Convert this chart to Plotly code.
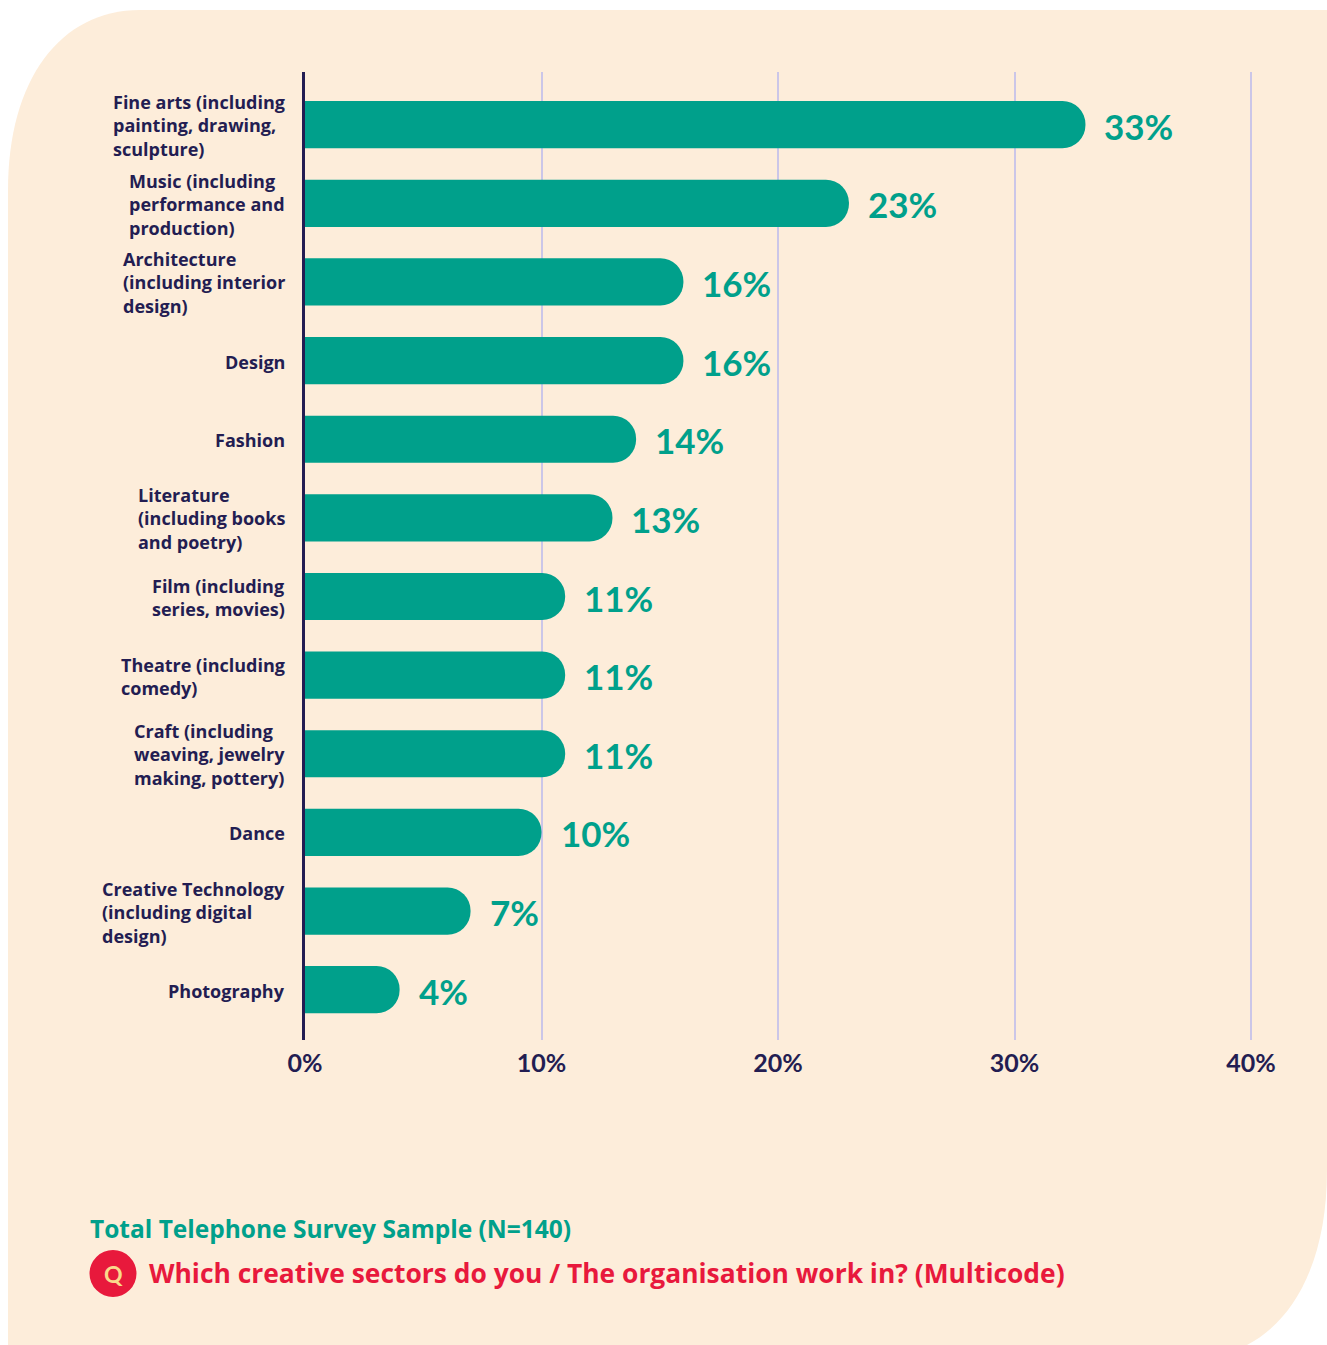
import plotly.graph_objects as go

# Sectors and the share of respondents working in each (percent)
sectors = [
    "Fine arts (including<br>painting, drawing,<br>sculpture)",
    "Music (including<br>performance and<br>production)",
    "Architecture<br>(including interior<br>design)",
    "Design",
    "Fashion",
    "Literature<br>(including books<br>and poetry)",
    "Film (including<br>series, movies)",
    "Theatre (including<br>comedy)",
    "Craft (including<br>weaving, jewelry<br>making, pottery)",
    "Dance",
    "Creative Technology<br>(including digital<br>design)",
    "Photography",
]
shares = [33, 23, 16, 16, 14, 13, 11, 11, 11, 10, 7, 4]
x_ticks = [0, 10, 20, 30, 40]
x_tick_labels = ["0%", "10%", "20%", "30%", "40%"]

base_title = "Total Telephone Survey Sample (N=140)"
question = "Which creative sectors do you / The organisation work in? (Multicode)"

W, H = 1327, 1345
TEAL = "#00A08B"
NAVY = "#231D52"
RED = "#E8193C"
PEACH = "#FDEDDA"
GRID = "#CBC6E8"
FONT = "Lato"
LABEL_FONT = "Open Sans"

X_MAX = 40.1  # a little headroom so the 40% gridline is kept


def px(x):
    return x / W


def py(y):
    return 1 - y / H


def path(cmds):
    out = []
    for c in cmds:
        if isinstance(c, str):
            out.append(c)
        else:
            out.append(" ".join(f"{px(a):.5f},{py(b):.5f}" for a, b in c))
    return " ".join(out)


fig = go.Figure()

fig.add_trace(go.Bar(
    x=shares,
    y=sectors,
    orientation="h",
    width=0.6,
    marker=dict(color=TEAL, line=dict(width=0), cornerradius="50%"),
    hoverinfo="skip",
))

annotations = []
# category labels, left-aligned blocks sitting against the axis
for s in sectors:
    annotations.append(dict(
        x=px(287), xref="paper", y=s, yref="y",
        text=s, showarrow=False, xanchor="right", yanchor="middle",
        align="left", yshift=-1,
        font=dict(family=LABEL_FONT, size=18, color=NAVY, weight="bold"),
    ))
# value labels at the end of each bar
for s, v in zip(sectors, shares):
    annotations.append(dict(
        x=v, xref="x", y=s, yref="y",
        text=f"{v}%", showarrow=False, xanchor="left", yanchor="middle",
        xshift=17, yshift=-1,
        font=dict(family=FONT, size=35, color=TEAL, weight="bold"),
    ))
# footer
annotations.append(dict(
    x=px(88), y=py(1228), xref="paper", yref="paper", text=base_title,
    showarrow=False, xanchor="left", yanchor="middle",
    font=dict(family=LABEL_FONT, size=24.5, color=TEAL, weight="bold"),
))
annotations.append(dict(
    x=px(147), y=py(1273), xref="paper", yref="paper", text=question,
    showarrow=False, xanchor="left", yanchor="middle",
    font=dict(family=LABEL_FONT, size=26.4, color=RED, weight="bold"),
))
annotations.append(dict(
    x=px(113), y=py(1274), xref="paper", yref="paper", text="Q",
    showarrow=False, xanchor="center", yanchor="middle",
    font=dict(family=FONT, size=23, color="#FAD98C", weight="bold"),
))

shapes = [
    # peach panel with sweeping corners
    dict(
        type="path", xref="paper", yref="paper", layer="below",
        path=path([
            "M", [(8, 1345)], "L", [(8, 190)],
            "C", [(8, 80), (60, 10), (140, 10)],
            "L", [(1327, 10)], "L", [(1327, 1170)],
            "C", [(1327, 1260), (1295, 1320), (1247, 1345)],
            "Z",
        ]),
        fillcolor=PEACH, line=dict(width=0),
    ),
    # question badge
    dict(
        type="circle", xref="paper", yref="paper", layer="above",
        x0=px(89.5), x1=px(136.5), y0=py(1297), y1=py(1250),
        fillcolor=RED, line=dict(width=0),
    ),
]

x0_px, x40_px = 305, 1251
x_end_px = x0_px + (x40_px - x0_px) * X_MAX / 40

fig.update_layout(
    width=W, height=H,
    margin=dict(l=0, r=0, t=0, b=0, autoexpand=False),
    paper_bgcolor="white",
    plot_bgcolor="rgba(0,0,0,0)",
    showlegend=False,
    annotations=annotations,
    shapes=shapes,
    xaxis=dict(
        domain=[px(x0_px), px(x_end_px)],
        range=[0, X_MAX],
        automargin=False,
        tickmode="array", tickvals=x_ticks, ticktext=x_tick_labels,
        showgrid=True, gridcolor=GRID, gridwidth=1.5,
        zeroline=False, showline=False,
        ticks="outside", ticklen=1, tickcolor="rgba(0,0,0,0)",
        tickfont=dict(family=FONT, size=25, color=NAVY, weight="bold"),
        fixedrange=True,
    ),
    yaxis=dict(
        domain=[py(1040), py(72)],
        categoryorder="array", categoryarray=sectors,
        range=[11.64, -0.67],
        automargin=False,
        showticklabels=False, showgrid=False, zeroline=False,
        showline=True, linecolor=NAVY, linewidth=2.5,
        ticks="", fixedrange=True,
    ),
)

fig.write_html("out.html")
